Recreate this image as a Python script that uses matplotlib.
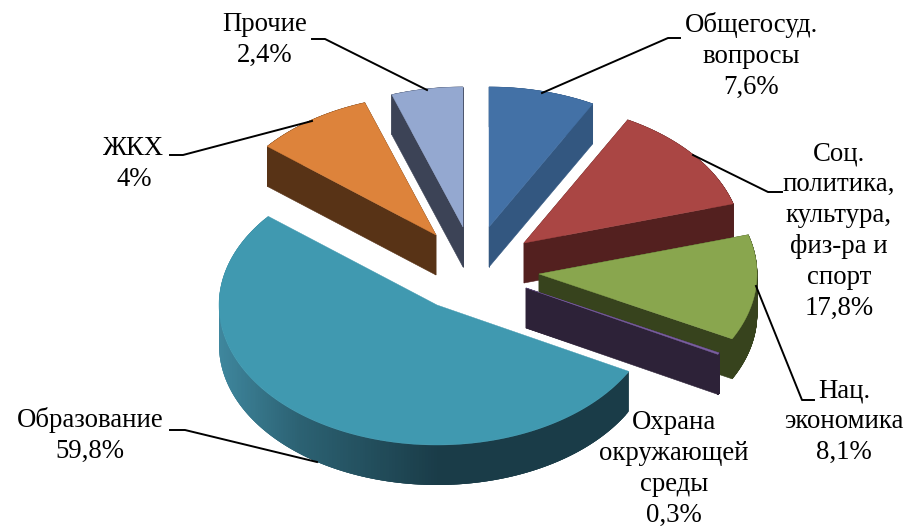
import numpy as np
import matplotlib
matplotlib.use('Agg')
import matplotlib.pyplot as plt
from matplotlib.colors import to_rgb

plt.rcParams['font.family'] = ['Liberation Serif', 'DejaVu Serif']

categories = ['Общегосуд.\nвопросы', 'Соц.\nполитика,\nкультура,\nфиз-ра и\nспорт', 'Нац.\nэкономика',
              'Охрана\nокружающей\nсреды', 'Образование', 'ЖКХ', 'Прочие']
value_labels = ['7,6%', '17,8%', '8,1%', '0,3%', '59,8%', '4%', '2,4%']
# the slices are not drawn to the printed values, these are the shares as seen in the picture
drawn_shares = [7.9, 12.6, 12.2, 0.2, 53.1, 8.8, 5.3]

top_colors = ['#4371a6', '#aa4644', '#89a64e', '#7a5fa0', '#4099b0', '#dd833b', '#94a8d0']
side_colors = ['#335780', '#53201f', '#37431d', '#2d2238', '#1b3c48', '#583316', '#3c4356']
explode_x = [16, 51, 66, 53, -36, -37, -10]
explode_y = [-50, -34, -3, 11, 28, -42, -50]

label_x = [751, 839, 844, 674, 90, 134, 265]
label_y = [56, 231, 422, 469, 435, 164, 40]
leaders = [
    [(542, 93), (668, 38), (680, 38)],
    [(693, 155), (768, 192), (782, 192)],
    [(756, 286), (802, 400), (814, 400)],
    None,
    [(317, 462), (185, 430), (170, 430)],
    [(312, 121), (183, 155), (170, 155)],
    [(427, 90), (325, 39), (312, 39)],
]

center_x, center_y = 473, 277
radius_x, radius_y = 218, 140
depth = 40
draw_order = [5, 6, 0, 1, 2, 3, 4]


def slice_outline(start, end, cx, cy):
    t = np.radians(np.linspace(start, end, 240))
    xs = cx + radius_x * np.cos(t)
    ys = cy - radius_y * np.sin(t)
    return xs, ys


def draw_teal_side(ax, xs, ys):
    # gradient along the rim, lighter on the left
    light = np.array(to_rgb('#3f879e'))
    mid = np.array(to_rgb('#2c6273'))
    dark = np.array(to_rgb('#1a3c48'))
    for i in range(len(xs) - 3):
        x = xs[i]
        if x < 300:
            c = light + (mid - light) * max(x - 219, 0) / 81
        elif x < 440:
            c = mid + (dark - mid) * (x - 300) / 140
        else:
            c = dark
        # strips overlap the next one so no seams show
        qx = [xs[i], xs[i + 3], xs[i + 3], xs[i]]
        qy = [ys[i], ys[i + 3], ys[i + 3] + depth, ys[i] + depth]
        ax.fill(qx, qy, color=tuple(c), lw=0, zorder=2)


def draw_slice(ax, i, start, end):
    cx = center_x + explode_x[i]
    cy = center_y + explode_y[i]
    xs, ys = slice_outline(start, end, cx, cy)
    top_x = np.r_[cx, xs]
    top_y = np.r_[cy, ys]
    z = 2 + draw_order.index(i) * 0.1
    if i == 4:
        draw_teal_side(ax, xs, ys)
    else:
        n = len(top_x)
        for k in range(n):
            m = (k + 1) % n
            qx = [top_x[k], top_x[m], top_x[m], top_x[k]]
            qy = [top_y[k], top_y[m], top_y[m] + depth, top_y[k] + depth]
            ax.fill(qx, qy, color=side_colors[i], lw=0.4, zorder=z)
    ax.fill(top_x, top_y, color=top_colors[i], lw=0.3, zorder=z + 0.01)


fig = plt.figure(figsize=(9.06, 5.29), dpi=100)
ax = fig.add_axes([0, 0, 1, 1])
ax.set_xlim(0, 906)
ax.set_ylim(529, 0)
ax.axis('off')

angles = 90 - np.r_[0, np.cumsum(drawn_shares)] / sum(drawn_shares) * 360
for i in draw_order:
    draw_slice(ax, i, angles[i], angles[i + 1])

for i in range(len(categories)):
    ax.text(label_x[i], label_y[i], categories[i] + '\n' + value_labels[i], ha='center', va='center',
            fontsize=19.3, linespacing=1.31, color='black', zorder=5)
    if leaders[i] is not None:
        lx, ly = zip(*leaders[i])
        ax.plot(lx, ly, color='black', lw=1.4, zorder=4, solid_joinstyle='round')

fig.savefig('out.png', dpi=100)
